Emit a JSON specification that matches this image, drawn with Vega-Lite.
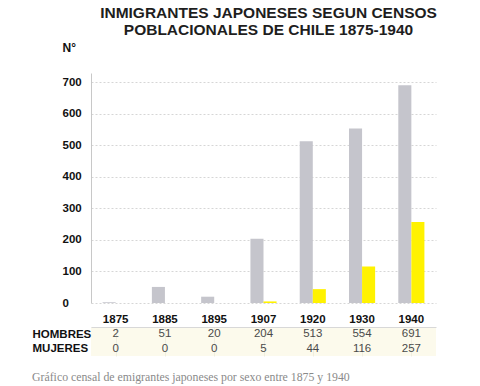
{
  "$schema": "https://vega.github.io/schema/vega-lite/v6.json",
  "padding": {"left": 32, "top": 5, "right": 5, "bottom": 2},
  "background": "white",
  "config": {"font": "Liberation Sans", "view": {"stroke": null}},
  "data": {"values": [
    {"anio": "1875", "sexo": "HOMBRES", "valor": 2},
    {"anio": "1885", "sexo": "HOMBRES", "valor": 51},
    {"anio": "1895", "sexo": "HOMBRES", "valor": 20},
    {"anio": "1907", "sexo": "HOMBRES", "valor": 204},
    {"anio": "1920", "sexo": "HOMBRES", "valor": 513},
    {"anio": "1930", "sexo": "HOMBRES", "valor": 554},
    {"anio": "1940", "sexo": "HOMBRES", "valor": 691},
    {"anio": "1875", "sexo": "MUJERES", "valor": 0},
    {"anio": "1885", "sexo": "MUJERES", "valor": 0},
    {"anio": "1895", "sexo": "MUJERES", "valor": 0},
    {"anio": "1907", "sexo": "MUJERES", "valor": 5},
    {"anio": "1920", "sexo": "MUJERES", "valor": 44},
    {"anio": "1930", "sexo": "MUJERES", "valor": 116},
    {"anio": "1940", "sexo": "MUJERES", "valor": 257}
  ]},
  "spacing": 2,
  "resolve": {"scale": {"x": "independent", "y": "independent"}},
  "vconcat": [
    {
      "width": 345,
      "height": 230,
      "title": {
        "text": ["INMIGRANTES JAPONESES SEGUN CENSOS", "POBLACIONALES DE CHILE 1875-1940"],
        "fontSize": 15.5,
        "fontWeight": "bold",
        "color": "#1e1e1e",
        "lineHeight": 17,
        "anchor": "middle",
        "frame": "group",
        "dx": 5,
        "offset": 3
      },
      "mark": {"type": "bar"},
      "encoding": {
        "x": {
          "field": "anio", "type": "nominal", "title": null,
          "scale": {"paddingInner": 0.47, "paddingOuter": 0.235},
          "axis": {"orient": "bottom", "labelAngle": 0, "ticks": false, "domain": false, "labelPadding": 10,
                   "labelFontSize": 11.5, "labelFontWeight": "bold", "labelColor": "#111"}
        },
        "xOffset": {"field": "sexo", "type": "nominal", "sort": ["HOMBRES", "MUJERES"], "scale": {"paddingInner": 0, "paddingOuter": 0}},
        "y": {
          "field": "valor", "type": "quantitative",
          "scale": {"domain": [0, 730], "nice": false},
          "axis": {
            "values": [0, 100, 200, 300, 400, 500, 600, 700],
            "title": "N°", "titleAngle": 0, "titleAlign": "left", "titleBaseline": "middle",
            "titleX": -29, "titleY": -26, "titleFontSize": 12, "titleFontWeight": "bold", "titleColor": "#111",
            "ticks": false, "labelAlign": "left", "labelPadding": 29, "labelBaseline": "middle",
            "labelFontSize": 11.5, "labelFontWeight": "bold", "labelColor": "#111",
            "domainColor": "#c8c8c8", "grid": true, "gridColor": "#d6d6d6", "gridDash": [2, 2]
          }
        },
        "color": {
          "field": "sexo", "type": "nominal", "legend": null,
          "scale": {"domain": ["HOMBRES", "MUJERES"], "range": ["#c5c5cc", "#fff200"]}
        }
      }
    },
    {
      "width": 345,
      "height": 29,
      "view": {"fill": "#fcfaec", "stroke": null},
      "title": {
        "text": "Gráfico censal de emigrantes japoneses por sexo entre 1875 y 1940",
        "orient": "bottom",
        "anchor": "start",
        "frame": "bounds",
        "font": "Liberation Serif",
        "fontSize": 11.8,
        "fontWeight": "normal",
        "color": "#8a8a8a",
        "offset": 16
      },
      "mark": {"type": "text", "fontSize": 11.5, "color": "#4a4a4a"},
      "encoding": {
        "x": {
          "field": "anio", "type": "nominal", "title": null,
          "scale": {"paddingInner": 0, "paddingOuter": 0},
          "axis": {"orient": "top", "labels": false, "ticks": false, "domain": true, "domainColor": "#d8d8d8",
                   "grid": true, "bandPosition": 0, "gridColor": "#f0eee0"}
        },
        "y": {
          "field": "sexo", "type": "nominal", "title": null, "sort": ["HOMBRES", "MUJERES"],
          "scale": {"paddingInner": 0, "paddingOuter": 0},
          "axis": {"ticks": false, "domain": false, "labelAlign": "left", "labelPadding": 59, "labelBaseline": "middle",
                   "labelFontSize": 11.5, "labelFontWeight": "bold", "labelColor": "#111"}
        },
        "text": {"field": "valor", "type": "quantitative"}
      }
    }
  ]
}
